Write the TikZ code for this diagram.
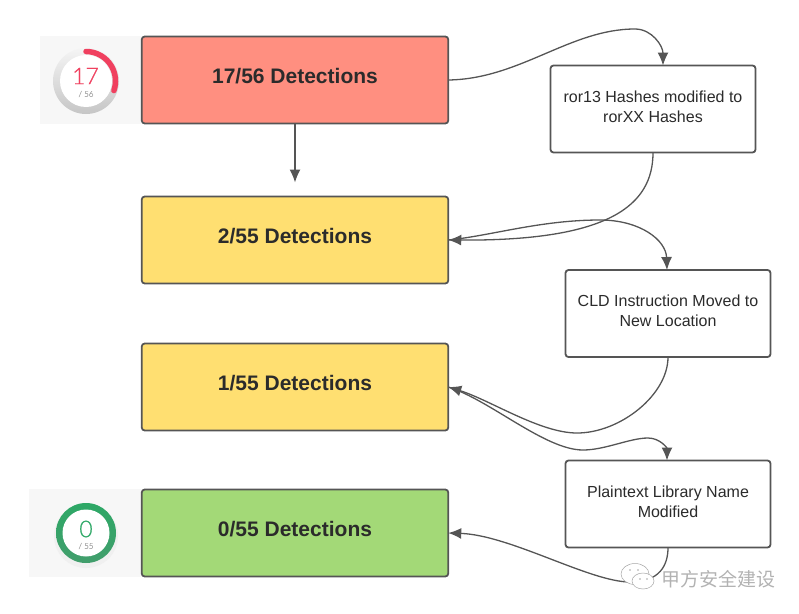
\documentclass[tikz,border=0pt]{standalone}
\usepackage{fontspec}
\setmainfont{Liberation Sans}
\newfontfamily\gaugefont[AutoFakeBold=0.6]{Lato Light}
\newfontfamily\cjkfont{Noto Sans CJK SC}
\usetikzlibrary{arrows.meta,positioning,calc,shapes.geometric}
\definecolor{ln}{HTML}{555555}
\definecolor{txt}{HTML}{2B2B2B}
\definecolor{redfill}{HTML}{FF8F80}
\definecolor{yelfill}{HTML}{FFDF71}
\definecolor{grnfill}{HTML}{A3D977}
\definecolor{gred}{HTML}{F0405F}
\definecolor{ggrn}{HTML}{2DA866}
\tikzset{
  detbox/.style = { draw=ln, line width=1.8pt, rounded corners=3pt, outer sep=0pt,
    minimum width=306.5pt, minimum height=87pt, text=txt, text depth=8pt, font=\fontsize{21}{24}\selectfont\bfseries },
  notebox/.style = { draw=ln, line width=1.8pt, rounded corners=3pt, outer sep=0pt, fill=white,
    minimum width=205pt, minimum height=87pt, align=center, text=txt, font=\fontsize{16}{20}\selectfont },
  flow/.style = { draw=ln, line width=1.3pt, -{Latex[length=13pt,width=11pt]} },
  gaugebg/.style = { fill=gray!6, draw=none, inner sep=0pt, outer sep=0pt },
  gauge/.style = { circle, fill=white, inner sep=0pt, minimum size=52pt },
  wmark/.style = { draw=gray!70, fill=white, line width=0.5pt, ellipse}
}
\begin{document}
\begin{tikzpicture}[x=1pt,y=-1pt]
  \useasboundingbox (0,0) rectangle (799,613);
  % gauge panels
  \node[gaugebg, minimum width=101pt, minimum height=88pt] (p17) at (90.5,80) {};
  \node[gaugebg, minimum width=112pt, minimum height=88pt] (p0) at (85,533) {};
  % detection boxes
  \node[detbox, fill=redfill] (d17) at (295,80) {17/56 Detections};
  \node[detbox, fill=yelfill] (d2) at (295,240) {2/55 Detections};
  \node[detbox, fill=yelfill] (d1) at (295,387) {1/55 Detections};
  \node[detbox, fill=grnfill] (d0) at (295,533) {0/55 Detections};
  % change boxes
  \node[notebox] (r13) at (653,109) {\raisebox{5pt}{ror13 Hashes modified to}\\\raisebox{5pt}{rorXX Hashes}};
  \node[notebox] (cld) at (668,313.5) {\raisebox{5pt}{CLD Instruction Moved to}\\\raisebox{5pt}{New Location}};
  \node[notebox] (lib) at (668,504) {\raisebox{5pt}{Plaintext Library Name}\\\raisebox{5pt}{Modified}};
  % red gauge
  \shade[top color=gray!8, bottom color=gray!45] (86,81) circle[radius=33pt];
  \node[gauge] (g17) at (86,81) {};
  \draw[gred, line width=5.5pt, line cap=round] (g17.center) ++(90:29.5pt) arc[start angle=90, end angle=-19, radius=29.5pt];
  \node[text=gred, font=\gaugefont\bfseries\fontsize{23}{23}\selectfont] (n17) at (85.5,76) {17};
  \node[text=gray!70, font=\gaugefont\bfseries\fontsize{8}{8}\selectfont] (t17) at (86,94) {/ 56};
  % green gauge
  \fill[gray!12] (86,536) circle[radius=32pt];
  \shade[top color=ggrn, bottom color=ggrn!75!gray] (86,533) circle[radius=30pt];
  \node[gauge, minimum size=47pt] (g0) at (86,533) {};
  \node[text=ggrn, font=\gaugefont\bfseries\fontsize{23}{23}\selectfont] (n0) at (86,529) {0};
  \node[text=gray!70, font=\gaugefont\bfseries\fontsize{8}{8}\selectfont] (t0) at (86,546) {/ 55};
  % connectors
  \draw[flow, shorten >=14pt] (d17) -- (d2);
  \draw[flow] (d17.east) .. controls (520,79) and (570,29) .. (635,29)
    .. controls (652,29) and (663,46) .. ([xshift=10pt]r13.north);
  \draw[flow] (r13.south) .. controls (653,205) and (610,241) .. (d2.east);
  \draw[flow] (d2.east) .. controls (490,236) and (540,220) .. (600,220)
    .. controls (640,220) and (666,240) .. ([xshift=-1pt]cld.north);
  \draw[flow] (cld.south) .. controls (668,395) and (620,433) .. (577,433)
    .. controls (540,433) and (490,400) .. (d1.east);
  \draw[flow] (d1.east) .. controls (490,400) and (545,450) .. (583,450)
    .. controls (605,450) and (630,438) .. (648,438)
    .. controls (660,438) and (667,448) .. ([xshift=-1pt]lib.north);
  \draw[flow] (lib.south) .. controls (668,565) and (660,582) .. (630,582)
    .. controls (590,582) and (510,535) .. (d0.east);
  % watermark
  \node[wmark, minimum width=28pt, minimum height=21pt, inner sep=0pt] (wm1) at (635,574) {};
  \node[wmark, minimum width=22pt, minimum height=16pt, inner sep=0pt] (wm2) at (643,581) {};
  \fill[gray!70] (630,570) circle[radius=0.9pt] (638,570) circle[radius=0.9pt]
    (640,579) circle[radius=0.9pt] (647,579) circle[radius=0.9pt];
  \node[text=gray!60, font=\cjkfont\fontsize{19}{20}\selectfont, inner sep=0pt] (wmtext) at (718.5,579) {甲方安全建设};
\end{tikzpicture}
\end{document}
